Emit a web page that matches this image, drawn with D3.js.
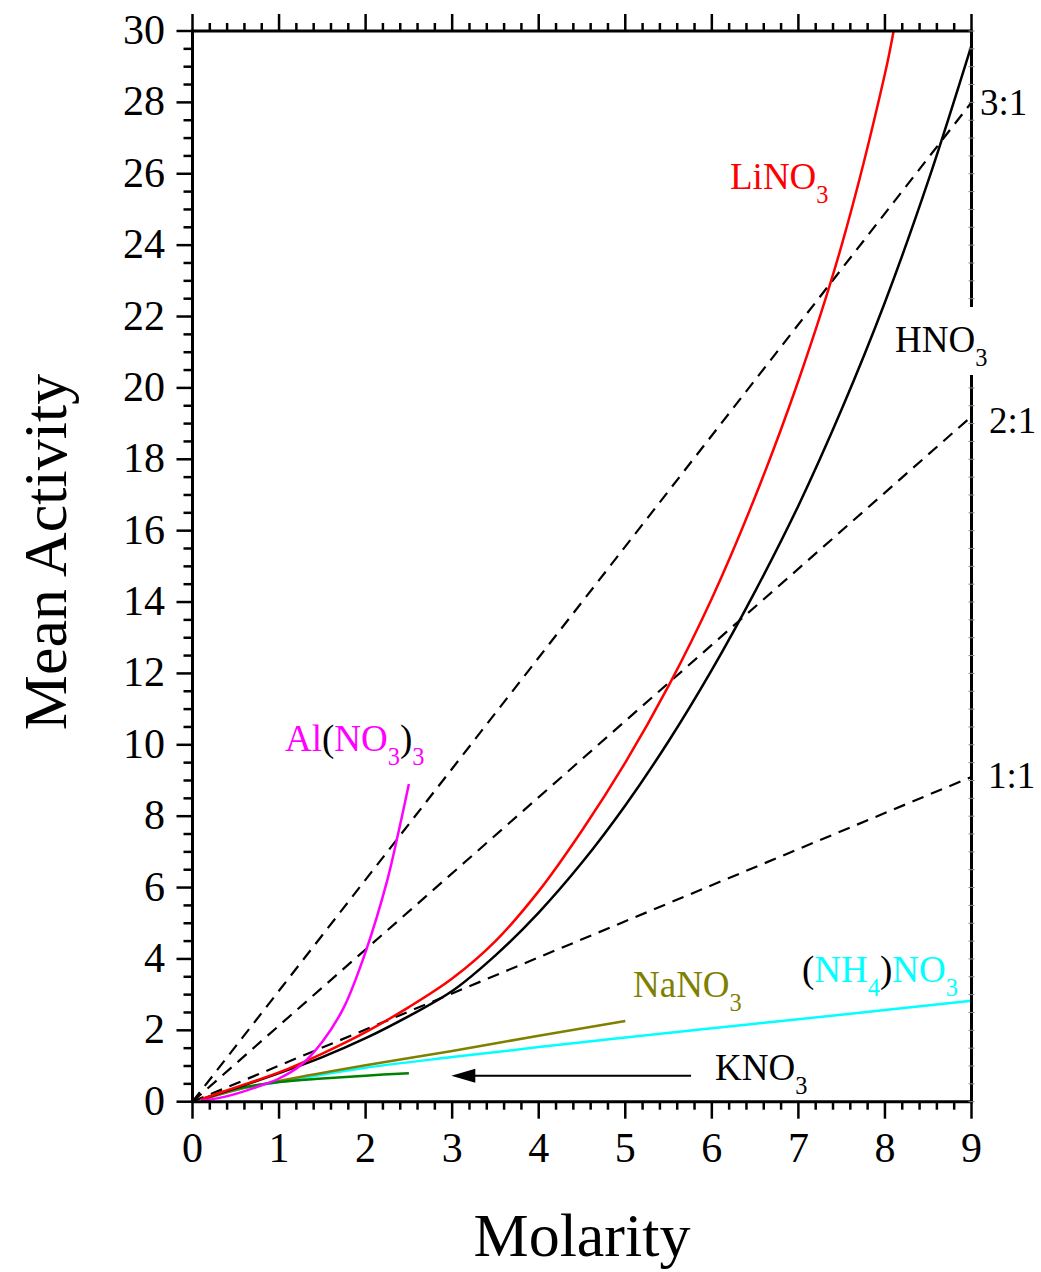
<!DOCTYPE html>
<html><head><meta charset="utf-8">
<script src="https://cdn.jsdelivr.net/npm/d3@7"></script>
<style>body{margin:0;background:#fff}svg{display:block}text{font-family:"Liberation Serif","Times New Roman",serif}</style>
</head><body>
<svg id="c" width="1041" height="1272"></svg>
<script>
// ---- data ----
const hno3X = [0.1,0.5,1,1.5,2,2.5,3,3.5,4,4.5,5,5.5,6,6.5,7,7.5,8,8.5,9];
const hno3Y = [0.06,0.38,0.8,1.25,1.78,2.4,3.1,4.1,5.3,6.7,8.3,10.1,12.1,14.3,16.7,19.4,22.4,25.8,29.6];
const lino3X = [0.1,0.5,1,1.5,2,2.5,3,3.5,4,4.5,5,5.5,6,6.5,7,7.5,8,8.1];
const lino3Y = [0.07,0.4,0.82,1.35,1.95,2.65,3.45,4.5,5.9,7.6,9.5,11.65,14.1,16.95,20.2,24.0,28.8,30.0];
const alX = [0.1,0.3,0.5,0.75,1.0,1.25,1.5,1.75,2.0,2.25,2.375,2.5];
const alY = [0.03,0.1,0.22,0.42,0.65,1.02,1.68,2.65,4.2,6.2,7.5,8.9];
const nanoX = [0.1,0.5,1,2,3,4,5];
const nanoY = [0.05,0.33,0.58,1.02,1.42,1.85,2.26];
const nh4X = [0.1,0.5,1,2,3,4,5,6,7,8,9];
const nh4Y = [0.05,0.33,0.55,0.95,1.25,1.53,1.8,2.06,2.31,2.57,2.83];
const knoX = [0.1,0.25,0.5,1,1.5,2,2.5];
const knoY = [0.05,0.2,0.36,0.55,0.65,0.73,0.8];
const ratioNames = ["1:1","2:1","3:1"];
const ratioEndY = [9.1,19.2,28.0];   // value at molarity 9
const arrowX = [5.76, 2.99];
const arrowY = 0.73;
const xTicks = [0,1,2,3,4,5,6,7,8,9];
const yTicks = [0,2,4,6,8,10,12,14,16,18,20,22,24,26,28,30];

// ---- layout ----
const svg = d3.select("#c");
const x = d3.scaleLinear().domain([0,9]).range([192.5,971.5]);
const y = d3.scaleLinear().domain([0,30]).range([1101.7,31]);
const zip = (xs,ys)=>xs.map((v,i)=>[v,ys[i]]);
const line = d3.line().x(d=>x(d[0])).y(d=>y(d[1])).curve(d3.curveCatmullRom.alpha(0.5));

// dashed ratio lines
ratioEndY.forEach(v=>{
  svg.append("path").attr("d", d3.line().x(d=>x(d[0])).y(d=>y(d[1]))([[0,0],[9,v]]))
    .attr("fill","none").attr("stroke","#000").attr("stroke-width",2.2).attr("stroke-dasharray","12,8");
});

const series = [
  [nh4X,nh4Y,"#00ffff"],
  [nanoX,nanoY,"#808000"],
  [knoX,knoY,"#008000"],
  [hno3X,hno3Y,"#000000"],
  [lino3X,lino3Y,"#ff0000"],
  [alX,alY,"#ff00ff"]
];
series.forEach(s=>{
  svg.append("path").attr("d",line(zip(s[0],s[1]))).attr("fill","none")
    .attr("stroke",s[2]).attr("stroke-width",2.5);
});

// arrow
svg.append("line").attr("x1",x(arrowX[0])).attr("x2",x(arrowX[1])+20).attr("y1",y(arrowY)).attr("y2",y(arrowY))
  .attr("stroke","#000").attr("stroke-width",2);
svg.append("path").attr("d",`M${x(arrowX[1])},${y(arrowY)} l24,-7 l0,14 z`).attr("fill","#000");

// white label backgrounds
svg.append("rect").attr("x",889).attr("y",307).attr("width",104).attr("height",68).attr("fill","#fff");
svg.append("rect").attr("x",700).attr("y",1046).attr("width",113).attr("height",53).attr("fill","#fff");

// axes
const ax = svg.append("g").attr("stroke","#000");
const X0=x(0),X1=x(9),Y0=y(0),Y1=y(30);
ax.append("line").attr("x1",X0).attr("x2",X1).attr("y1",Y0).attr("y2",Y0).attr("stroke-width",3);
ax.append("line").attr("x1",X0).attr("x2",X1).attr("y1",Y1).attr("y2",Y1).attr("stroke-width",3);
ax.append("line").attr("x1",X0).attr("x2",X0).attr("y1",Y0+1.5).attr("y2",Y1-1.5).attr("stroke-width",3);
// right axis with gap for HNO3 label
ax.append("line").attr("x1",X1).attr("x2",X1).attr("y1",Y1-1.5).attr("y2",307).attr("stroke-width",3);
ax.append("line").attr("x1",X1).attr("x2",X1).attr("y1",375).attr("y2",Y0+1.5).attr("stroke-width",3);

d3.range(0,9.0001,0.2).forEach(v=>{
  const major = Math.abs(v-Math.round(v))<1e-6;
  const L = major?17:8;
  ax.append("line").attr("x1",x(v)).attr("x2",x(v)).attr("y1",Y0).attr("y2",Y0+L).attr("stroke-width",2.5);
  ax.append("line").attr("x1",x(v)).attr("x2",x(v)).attr("y1",Y1).attr("y2",Y1-L).attr("stroke-width",2.5);
});
d3.range(0,30.0001,0.5).forEach(v=>{
  const major = Math.abs(v/2-Math.round(v/2))<1e-6;
  const L = major?16:9;
  ax.append("line").attr("x1",X0-L).attr("x2",X0).attr("y1",y(v)).attr("y2",y(v)).attr("stroke-width",2.5);
  if(y(v)<307||y(v)>375)
    ax.append("line").attr("x1",X1-3).attr("x2",X1+3).attr("y1",y(v)).attr("y2",y(v)).attr("stroke-width",1).attr("stroke","#888");
});

svg.selectAll(".xt").data(xTicks).enter().append("text").attr("x",d=>x(d)).attr("y",1162)
  .attr("text-anchor","middle").attr("font-size",42).text(d=>d);
svg.selectAll(".yt").data(yTicks).enter().append("text").attr("x",165).attr("y",d=>y(d)+13)
  .attr("text-anchor","end").attr("font-size",42).text(d=>d);

svg.append("text").attr("x",582).attr("y",1256).attr("text-anchor","middle").attr("font-size",62).text("Molarity");
svg.append("text").attr("transform","translate(66,552) rotate(-90)").attr("text-anchor","middle").attr("font-size",62).text("Mean Activity");

// labels with subscripts
function label(x0,y0,parts,size){
  const t = svg.append("text").attr("x",x0).attr("y",y0).attr("font-size",size);
  let cur=0;
  parts.forEach(p=>{
    const sub = p[2]===true;
    const ts = t.append("tspan").attr("fill",p[1]).text(p[0]);
    const target = sub?14:0;
    if(target!==cur){ts.attr("dy",target-cur);cur=target;}
    if(sub) ts.attr("font-size",size*0.66);
  });
}
const LS=37;
label(730,189,[["LiNO","#ff0000"],["3","#ff0000",true]],LS);
label(895,352,[["HNO","#000"],["3","#000",true]],LS);
label(285,751,[["Al","#ff00ff"],["(","#000"],["NO","#ff00ff"],["3","#ff00ff",true],[")","#000"],["3","#ff00ff",true]],LS);
label(633,997,[["NaNO","#808000"],["3","#808000",true]],LS);
label(802,982,[["(","#000"],["NH","#00ffff"],["4","#00ffff",true],[")","#000"],["NO","#00ffff"],["3","#00ffff",true]],LS);
label(715,1080,[["KNO","#000"],["3","#000",true]],LS);
const ratioLabelPos = [[988,788],[989,433],[980,115]];
ratioNames.forEach((n,i)=>svg.append("text").attr("x",ratioLabelPos[i][0]).attr("y",ratioLabelPos[i][1]).attr("font-size",LS).text(n));
</script>
</body></html>
